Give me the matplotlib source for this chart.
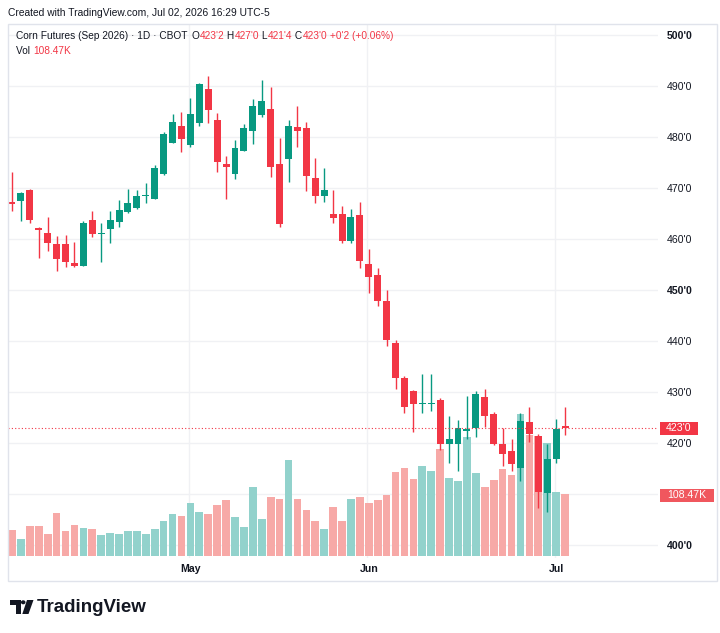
import matplotlib
matplotlib.use("Agg")
import matplotlib.pyplot as plt
import matplotlib.transforms as mtransforms
from matplotlib.patches import Rectangle, Polygon, Circle

# ---------------- data ----------------
opens = [467.3, 467.4, 469.7, 462.2, 461.2, 459.0, 459.0, 455.2, 454.8, 463.7,
         461.0, 461.9, 463.4, 465.2, 466.1, 468.4, 467.8, 472.7, 478.9, 482.2,
         478.4, 482.8, 489.4, 483.3, 474.7, 472.7, 477.3, 481.2, 484.3, 485.5,
         474.7, 475.7, 482.0, 481.7, 472.0, 468.4, 464.9, 464.9, 459.6, 464.7,
         455.0, 452.9, 447.9, 439.7, 432.7, 430.1, 427.6, 427.6, 428.4, 419.9,
         419.9, 422.4, 422.9, 429.0, 425.7, 419.9, 418.5, 415.0, 424.2, 421.4,
         410.1, 416.8, 423.25]
highs = [473.2, 469.2, 469.8, 462.3, 464.3, 460.5, 460.7, 459.5, 463.5, 465.5,
         463.1, 465.4, 467.6, 469.9, 469.7, 470.9, 474.5, 481.0, 484.5, 484.9,
         487.6, 490.6, 492.0, 484.8, 476.3, 479.4, 482.5, 487.5, 491.2, 489.9,
         479.9, 483.3, 486.1, 483.0, 475.8, 473.9, 469.6, 466.5, 465.8, 467.2,
         458.0, 454.3, 450.0, 440.2, 433.1, 430.4, 433.5, 433.5, 428.8, 425.2,
         424.6, 429.2, 430.1, 430.5, 426.1, 422.9, 420.7, 425.8, 427.1, 421.8,
         419.9, 424.8, 427.0]
lows = [465.5, 463.5, 463.2, 456.2, 457.7, 453.8, 454.5, 454.6, 454.7, 460.3,
        455.4, 459.3, 462.4, 465.0, 465.8, 467.0, 467.8, 472.6, 478.9, 477.1,
        478.0, 482.2, 482.7, 473.2, 467.8, 471.8, 477.3, 478.6, 484.0, 472.1,
        462.3, 471.2, 478.0, 469.5, 467.0, 467.3, 463.2, 459.2, 459.2, 454.3,
        449.5, 446.9, 439.1, 430.6, 425.8, 422.2, 425.9, 426.3, 418.6, 416.1,
        414.6, 420.7, 421.2, 423.2, 419.6, 415.5, 414.6, 412.6, 420.1, 407.2,
        406.4, 416.0, 421.5]
closes = [466.9, 469.0, 463.7, 461.8, 459.2, 456.1, 455.4, 454.8, 463.2, 461.0,
          461.2, 463.7, 465.7, 467.0, 468.4, 468.6, 473.9, 480.5, 482.9, 479.6,
          484.5, 490.3, 485.3, 475.0, 474.2, 477.8, 481.7, 486.1, 487.1, 474.2,
          462.9, 482.2, 481.2, 472.4, 468.4, 469.7, 464.2, 459.6, 464.3, 455.7,
          452.6, 447.9, 440.2, 432.7, 427.0, 427.6, 427.8, 427.9, 419.9, 420.8,
          422.9, 422.7, 429.7, 425.3, 419.9, 417.8, 415.9, 424.3, 421.8, 410.3,
          416.9, 422.75, 423.0]
volumes_k = [45, 29, 52, 52, 38, 75, 44, 55, 49, 47,
             37, 40, 38, 43, 43, 38, 47, 62, 73, 71,
             93, 77, 73, 89, 98, 68, 51, 121, 65, 103,
             101, 169, 101, 80, 62, 47, 86, 61, 101, 104,
             93, 98, 107, 148, 155, 135, 158, 150, 188, 137,
             132, 209, 146, 122, 134, 153, 143, 250, 213, 211,
             199, 112, 108.47]
month_ticks = [20, 40, 61]
month_labels = ["May", "Jun", "Jul"]
price_ticks = [400, 410, 420, 430, 440, 450, 460, 470, 480, 490, 500]
price_labels = ["400'0", "", "420'0", "430'0", "440'0", "450'0", "460'0",
                "470'0", "480'0", "490'0", "500'0"]
bold_prices = [400, 450, 500]
last_price = 423.0
last_price_label = "423'0"
last_volume_label = "108.47K"

# ---------------- style ----------------
UP = "#089981"
DOWN = "#F23645"
VUP = "#92D2CC"
VDOWN = "#F7A9A7"
TXT = "#131722"
GRID = "#F0F1F4"
FONT = "Liberation Sans"

W, H = 720, 633
fig = plt.figure(figsize=(W / 100, H / 100), dpi=100)
fig.patch.set_facecolor("white")


def fx(x):
    return x / W


def fy(y):
    return 1 - y / H


L, R, T, B = 8, 658, 24, 558
rect = [fx(L), fy(B), (R - L) / W, (B - T) / H]
ax_v = fig.add_axes(rect)
ax_p = fig.add_axes(rect, sharex=ax_v)
ax_p.patch.set_visible(False)
for a in (ax_v, ax_p):
    for s in a.spines.values():
        s.set_visible(False)

n = len(opens)
xs = list(range(n))
ax_v.set_xlim(-0.448, 72.42)
ax_p.set_ylim(397.45, 502.157)
ax_v.set_ylim(-4.06, 939.5)

# grid (in back axes)
for t in month_ticks:
    ax_v.axvline(t - 0.15, color=GRID, lw=1.0, zorder=0)
trans = mtransforms.blended_transform_factory(ax_v.transAxes, ax_p.transData)
for p in price_ticks:
    ax_v.plot([0, 1], [p, p], transform=trans, color=GRID, lw=1.0, zorder=0)

# volume
vcols = [VUP if c >= o else VDOWN for o, c in zip(opens, closes)]
ax_v.bar(xs, volumes_k, width=0.86, color=vcols, edgecolor="none", zorder=1)

# candles
ccols = [UP if c >= o else DOWN for o, c in zip(opens, closes)]
ax_p.vlines(xs, lows, highs, colors=ccols, lw=1.0, zorder=2)
bottoms = [min(o, c) for o, c in zip(opens, closes)]
heights = [max(abs(c - o), 0.22) for o, c in zip(opens, closes)]
ax_p.bar(xs, heights, bottom=bottoms, width=0.78, color=ccols,
         edgecolor="none", zorder=3)

# last price dotted line
ax_p.axhline(last_price, color=DOWN, lw=0.8, ls=(0, (1, 2)), zorder=4)

# y ticks (price, right side)
ax_v.set_yticks([])
ax_p.yaxis.tick_right()
ax_p.set_yticks(price_ticks)
ax_p.set_yticklabels(price_labels)
ax_p.tick_params(axis="y", length=0, pad=6.5, labelsize=7.6, labelcolor=TXT)
for lbl, p in zip(ax_p.get_yticklabels(), price_ticks):
    lbl.set_fontfamily(FONT)
    if p in bold_prices:
        lbl.set_fontweight("bold")

# x ticks
ax_v.set_xticks(month_ticks)
ax_v.set_xticklabels(month_labels)
ax_v.tick_params(axis="x", length=0, pad=4, labelsize=7.6, labelcolor=TXT)
for lbl in ax_v.get_xticklabels():
    lbl.set_fontweight("bold")
    lbl.set_fontfamily(FONT)
ax_p.tick_params(axis="x", length=0, labelbottom=False)

# outer frame
fig.add_artist(Rectangle((fx(8), fy(581)), (717 - 8) / W, (581 - 24) / H,
                         transform=fig.transFigure, fill=False,
                         ec="#E0E3EB", lw=1.0))

# price / volume labels on scale
fig.add_artist(Rectangle((fx(660), fy(434.5)), 38 / W, 13 / H,
                         transform=fig.transFigure, fc=DOWN, ec="none"))
fig.text(fx(679), fy(428), last_price_label, color="white", fontsize=7.6,
         ha="center", va="center", family=FONT)
fig.add_artist(Rectangle((fx(660), fy(501.5)), 54 / W, 13 / H,
                         transform=fig.transFigure, fc="#F0575E", ec="none"))
fig.text(fx(687), fy(495), last_volume_label, color="white", fontsize=7.6,
         ha="center", va="center", family=FONT)

# header
fig.text(fx(8), fy(13), "Created with TradingView.com, Jul 02, 2026 16:29 UTC-5",
         color=TXT, fontsize=7.4, ha="left", va="center", family=FONT)


def chain(parts, x, y, size=7.3):
    first = fig.text(fx(x), fy(y), parts[0][0], color=parts[0][1], fontsize=size,
                     ha="left", va="center", family=FONT)
    prev = first
    for s, c in parts[1:]:
        prev = ax_p.annotate(s, xy=(1, 0), xycoords=prev, color=c, fontsize=size,
                             ha="left", va="bottom", family=FONT,
                             annotation_clip=False)
    return first


fig.text(fx(16), fy(36), "Corn Futures (Sep 2026) · 1D · CBOT", color=TXT,
         fontsize=7.3, ha="left", va="center", family=FONT)
chain([("O", TXT), ("423'2", DOWN), (" H", TXT), ("427'0", DOWN),
       (" L", TXT), ("421'4", DOWN), (" C", TXT), ("423'0", DOWN),
       (" +0'2 (+0.06%)", DOWN)], 192, 36)
chain([("Vol ", TXT), ("108.47K", DOWN)], 16, 51)

# logo
def P(x, y):
    return (fx(x), fy(y))

fig.add_artist(Polygon([P(10, 600), P(20.7, 600), P(20.7, 614), P(16, 614),
                        P(16, 605), P(10, 605)], closed=True,
                       transform=fig.transFigure, fc="#131722", ec="none"))
fig.add_artist(Circle(P(23.2, 602.3), 2.3 / W, transform=fig.transFigure,
                      fc="#131722", ec="none"))
fig.add_artist(Polygon([P(27, 600), P(33.5, 600), P(28.5, 614), P(22.3, 614)],
                       closed=True, transform=fig.transFigure,
                       fc="#131722", ec="none"))
fig.text(fx(36.5), fy(608), "TradingView", color="#131722", fontsize=13.5,
         fontweight="bold", ha="left", va="center", family=FONT)

fig.savefig("out.png", dpi=100, facecolor="white")
